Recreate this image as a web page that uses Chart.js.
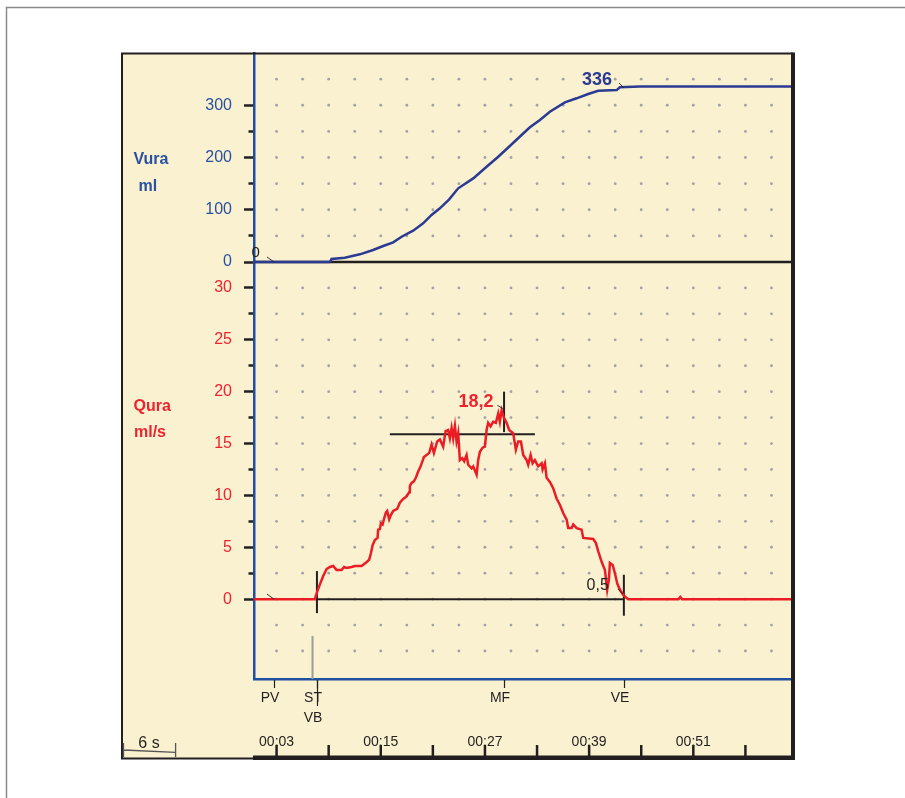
<!DOCTYPE html>
<html><head><meta charset="utf-8">
<script src="https://cdn.jsdelivr.net/npm/chart.js@4.4.1/dist/chart.umd.min.js"></script>
<style>html,body{margin:0;padding:0;background:#fff;overflow:hidden}canvas{display:block}</style>
</head><body>
<canvas id="c" width="905" height="798"></canvas>
<script>
// ---- data (time in seconds) ----
const flowTime = [0.4,7.41,7.67,7.98,8.36,8.76,9.14,9.52,9.91,10.48,10.78,11.06,11.64,12.02,12.79,13.28,13.66,13.86,14.06,14.32,14.63,14.70,14.90,15.01,15.21,15.36,15.59,15.74,15.97,16.16,16.43,16.89,17.20,17.58,17.97,18.27,18.35,18.55,18.81,19.04,19.31,19.59,19.97,20.28,20.58,20.85,21.12,21.50,21.81,22.19,22.47,22.76,22.96,23.16,23.34,23.54,23.73,23.92,24.11,24.38,24.61,24.88,25.07,25.46,25.65,26.04,26.22,26.42,26.73,26.99,27.19,27.37,27.65,27.95,28.26,28.53,28.72,28.92,29.18,29.49,29.79,30.25,30.56,30.83,31.14,31.41,31.80,31.98,32.26,32.49,32.75,33.13,33.53,33.64,33.91,34.10,34.48,34.86,35.25,35.63,36.01,36.41,36.59,36.98,37.17,37.56,38.13,38.32,39.47,39.78,40.05,40.44,40.82,41.08,41.28,41.39,41.71,41.97,42.24,42.55,42.93,43.32,43.50,49.3,49.5,49.7,62.25];
const flowRate = [0,0,0.7,1.4,2.2,2.9,3.1,3.2,2.8,2.8,3.1,3.0,3.1,3.2,3.2,3.5,3.8,4.4,5.2,5.7,5.9,6.7,6.75,7.3,7.2,7.7,8.35,8.5,7.7,8.1,8.5,8.7,9.3,9.65,9.9,10.3,10.9,11.2,11.35,11.7,12.3,12.8,13.7,13.9,14.1,14.9,14.1,15.2,15.4,14.7,16.2,16.3,15.5,16.5,15.5,16.7,15.2,16.0,13.4,13.6,13.3,13.9,12.95,12.6,12.8,12.0,13.4,14.2,14.6,14.7,16.3,17.0,16.65,17.1,17.0,17.9,17.1,18.2,17.5,17.0,16.3,16.0,14.4,15.2,15.2,13.9,13.4,12.95,13.9,13.1,13.4,12.8,13.1,12.5,13.1,11.7,11.3,10.7,9.7,9.1,8.3,7.65,6.85,6.85,7.2,6.85,6.7,5.9,5.8,5.4,4.6,3.6,2.8,0.9,1.9,3.5,3.3,2.5,1.5,0.9,0.4,0.1,0,0,0.2,0,0];
const volTime = [0.4,9.14,9.33,10.86,12.59,14.12,15.28,16.43,17.40,18.73,19.88,20.85,21.81,22.88,23.92,25.65,27.19,28.53,29.87,31.22,32.18,33.33,34.48,36.21,37.56,38.89,40.05,42.17,42.55,44.85,62.25];
const volume = [0,0,5.7,8.3,14.7,23,30.6,37.7,48.4,60,74,90,102.8,120,141,160,182.4,201.5,222,243,257.8,271.8,287.7,305.6,313.3,321.5,327.8,329,334.3,336,336];

const volTicks = [0,50,100,150,200,250,300];
const volLabelTicks = [0,100,200,300];
const flowTicks = [0,2.5,5,7.5,10,12.5,15,17.5,20,22.5,25,27.5,30];
const flowLabelTicks = [0,5,10,15,20,25,30];
const timeTicks = [3,15,27,39,51];
const timeTickLabels = ['00:03','00:15','00:27','00:39','00:51'];
const timeMinorTicks = [9,21,33,45,57];
const dotTimes = [3,6,9,12,15,18,21,24,27,30,33,36,39,42,45,48,51,54,57,60];
const dotVolumes = [50,100,150,200,250,300,350];
const dotFlows = [-5,-2.5,0,2.5,5,7.5,10,12.5,15,17.5,20,22.5,25,27.5,30];

const markerNames = ['PV','ST','VB','MF','VE'];
const markerTimes = [2.7,7.65,7.65,29.2,43.0];
const markerRow = [0,0,1,0,0];

const flowStart = 7.65, flowEnd = 43.0;
const Qmax = 18.2, QmaxTime = 29.2, QmaxLabel = '18,2';
const Vtotal = 336, VtotalTime = 42.55, VtotalLabel = '336';
const endFlow = 0.5, endFlowLabel = '0,5';
const refFlow = 15.9, refStart = 16.05, refEnd = 32.75;
const peakBar = [16.1, 20.0];
const vbBar = [-1.35, 2.7];
const veBar = [-1.6, 2.35];
const stTime = 7.14, stBar = [-7.7, -3.55];
const scaleBarSeconds = 6;

// ---- style ----
const FONT = '"Liberation Sans", Arial, Helvetica, sans-serif';
const DARK = '#231f20', BLUE = '#1f4f9f', VBLUE = '#2b3a92', LBLUE = '#2a50a0', RED = '#ec1c24', LRED = '#ec2430';
const CREAM = '#f9f1cf', DOT = '#a3a1a8';

function pts(xs, ys){ return xs.map((x,i)=>({x, y: ys[i]})); }
function seg(x1,y1,x2,y2){ return [{x:x1,y:y1},{x:x2,y:y2}]; }

const framePlugin = {
  id: 'frame',
  beforeDraw(chart){
    const c = chart.ctx;
    c.save();
    c.fillStyle = '#fff'; c.fillRect(0,0,905,798);
    c.strokeStyle = '#8a8a8a'; c.lineWidth = 1.5;
    c.beginPath(); c.moveTo(6.5,798); c.lineTo(6.5,7.5); c.lineTo(905,7.5); c.stroke();
    c.fillStyle = CREAM; c.fillRect(121,53,674,706);
    c.restore();
  },
  beforeDatasetsDraw(chart){
    const c = chart.ctx, x = chart.scales.x, yV = chart.scales.yV, yQ = chart.scales.yQ;
    c.save(); c.fillStyle = DOT;
    for (const t of dotTimes){
      const px = x.getPixelForValue(t);
      for (const v of dotVolumes){ c.beginPath(); c.arc(px, yV.getPixelForValue(v), 1.4, 0, Math.PI*2); c.fill(); }
      for (const q of dotFlows){ c.beginPath(); c.arc(px, yQ.getPixelForValue(q), 1.4, 0, Math.PI*2); c.fill(); }
    }
    c.restore();
  },
  afterDraw(chart){
    const c = chart.ctx, x = chart.scales.x, yV = chart.scales.yV, yQ = chart.scales.yQ, a = chart.chartArea;
    c.save();
    // panel border
    c.strokeStyle = DARK; c.lineWidth = 2;
    c.beginPath(); c.moveTo(122,759); c.lineTo(122,53.5); c.lineTo(793,53.5); c.stroke();
    c.lineWidth = 4; c.beginPath(); c.moveTo(793,52.5); c.lineTo(793,760); c.stroke();
    c.lineWidth = 2; c.beginPath(); c.moveTo(121,758.5); c.lineTo(254,758.5); c.stroke();
    c.fillStyle = DARK; c.fillRect(253,755.5,542,4.5);
    // time ticks
    c.lineWidth = 2.5; c.strokeStyle = DARK;
    for (const t of timeTicks.concat(timeMinorTicks)){
      const px = x.getPixelForValue(t);
      c.beginPath(); c.moveTo(px,745); c.lineTo(px,756); c.stroke();
    }
    // markers below plot
    c.lineWidth = 1.2; c.fillStyle = DARK; c.font = '14px ' + FONT; c.textAlign = 'center'; c.textBaseline = 'alphabetic';
    markerNames.forEach((n,i)=>{
      const px = Math.round(x.getPixelForValue(markerTimes[i])) + 0.5;
      const len = markerRow[i] ? 27 : 9;
      c.beginPath(); c.moveTo(px, a.bottom+1); c.lineTo(px, a.bottom + len); c.stroke();
      c.fillText(n, px - 4.5, markerRow[i] ? 722 : 702);
    });
    // 6 s scale bar
    const w = x.getPixelForValue(scaleBarSeconds) - x.getPixelForValue(0);
    c.strokeStyle = '#555'; c.lineWidth = 1.3;
    c.beginPath(); c.moveTo(123.5,743); c.lineTo(123.5,757); c.moveTo(123.5,750); c.lineTo(123.5+w,752.3);
    c.moveTo(123.5+w,743); c.lineTo(123.5+w,757); c.stroke();
    c.fillStyle = DARK; c.font = '16px ' + FONT; c.textAlign = 'center';
    c.fillText(scaleBarSeconds + ' s', 149, 748);
    // axis titles
    c.textAlign = 'left'; c.font = 'bold 16px ' + FONT;
    c.fillStyle = LBLUE; c.fillText('Vura', 133.5, 164); c.fillText('ml', 138.5, 190.5);
    c.fillStyle = LRED; c.fillText('Qura', 133.5, 410.5); c.fillText('ml/s', 134, 436.5);
    // annotations
    const leader = (x1,y1,x2,y2)=>{ c.strokeStyle = DARK; c.lineWidth = 0.9; c.beginPath(); c.moveTo(x1,y1); c.lineTo(x2,y2); c.stroke(); };
    let px = x.getPixelForValue(VtotalTime), py = yV.getPixelForValue(Vtotal);
    c.textAlign = 'right'; c.font = 'bold 18px ' + FONT; c.fillStyle = VBLUE;
    c.fillText(VtotalLabel, px - 8, py - 1.5);
    leader(px-1, py-3.5, px+4, py+1.5);
    px = x.getPixelForValue(QmaxTime); py = yQ.getPixelForValue(Qmax);
    c.fillStyle = LRED; c.fillText(QmaxLabel, px - 10.5, py - 3.5);
    leader(px-6.7, py-5, px-0.7, py-1.6);
    px = x.getPixelForValue(flowEnd); py = yQ.getPixelForValue(endFlow);
    c.font = '16px ' + FONT; c.fillStyle = DARK;
    c.fillText(endFlowLabel, px - 15, py - 4);
    leader(px-6, py-5, px-1, py);
    px = a.left; py = yV.getPixelForValue(0);
    c.textAlign = 'left'; c.font = '15px ' + FONT;
    c.fillText('0', px - 2.5, py - 5);
    leader(px+13, py-5, px+20, py);
    py = yQ.getPixelForValue(0);
    leader(px+13, py-5, px+20, py);
    c.restore();
  }
};

const minorDash = ctx => (ctx.tick && ctx.tick.major === false) ? [5,5] : [];

new Chart(document.getElementById('c'), {
  type: 'line',
  data: {
    datasets: [
      { data: pts(volTime, volume), yAxisID: 'yV', borderColor: VBLUE, borderWidth: 2.5, clip: false },
      { data: pts(flowTime, flowRate), yAxisID: 'yQ', borderColor: RED, borderWidth: 2.5, clip: false },
      { data: seg(flowTime[0], 0, flowTime[flowTime.length-1], 0), yAxisID: 'yV', borderColor: DARK, borderWidth: 2.5, clip: false },
      { data: seg(flowStart, 0, flowEnd, 0), yAxisID: 'yQ', borderColor: DARK, borderWidth: 2, clip: false },
      { data: seg(refStart, refFlow, refEnd, refFlow), yAxisID: 'yQ', borderColor: DARK, borderWidth: 2, clip: false },
      { data: seg(QmaxTime, peakBar[0], QmaxTime, peakBar[1]), yAxisID: 'yQ', borderColor: DARK, borderWidth: 2, clip: false },
      { data: seg(flowStart, vbBar[0], flowStart, vbBar[1]), yAxisID: 'yQ', borderColor: DARK, borderWidth: 2, clip: false },
      { data: seg(flowEnd, veBar[0], flowEnd, veBar[1]), yAxisID: 'yQ', borderColor: DARK, borderWidth: 2, clip: false },
      { data: seg(stTime, stBar[0], stTime, stBar[1]), yAxisID: 'yQ', borderColor: '#9d9d9d', borderWidth: 2, clip: false }
    ]
  },
  options: {
    responsive: false,
    devicePixelRatio: 1,
    animation: false,
    events: [],
    layout: { padding: { left: 121, right: 114, top: 53, bottom: 40 } },
    elements: { point: { radius: 0 }, line: { tension: 0, fill: false } },
    plugins: { legend: { display: false }, tooltip: { enabled: false } },
    scales: {
      x: {
        type: 'linear', position: 'bottom', min: 0.4, max: 62.25,
        afterFit(s){ s.height = 79; },
        afterBuildTicks(s){ s.ticks = timeTicks.map(v => ({ value: v })); },
        grid: { display: false, drawTicks: false },
        border: { display: true, color: BLUE, width: 2.5 },
        ticks: { autoSkip: false, maxRotation: 0, padding: 55, color: DARK, font: { family: FONT, size: 14 },
                 callback: (v) => { const i = timeTicks.indexOf(v); return i >= 0 ? timeTickLabels[i] : ''; } }
      },
      yQ: {
        type: 'linear', position: 'left', stack: 'uro', stackWeight: 417, min: -7.7, max: 32.5,
        afterFit(s){ s.width = 133; },
        afterBuildTicks(s){ s.ticks = flowTicks.map(v => ({ value: v, major: flowLabelTicks.includes(v) })); },
        grid: { drawOnChartArea: false, drawTicks: true, tickLength: 10, tickWidth: 2.5, tickColor: DARK,
                tickBorderDash: minorDash, tickBorderDashOffset: 5.5 },
        border: { display: true, color: BLUE, width: 2.5 },
        ticks: { autoSkip: false, padding: 12, color: LRED, font: { family: FONT, size: 16 },
                 callback: (v) => flowLabelTicks.includes(v) ? String(v) : '' }
      },
      yV: {
        type: 'linear', position: 'left', stack: 'uro', stackWeight: 209, min: 0, max: 400,
        afterFit(s){ s.width = 133; },
        afterBuildTicks(s){ s.ticks = volTicks.map(v => ({ value: v, major: volLabelTicks.includes(v) })); },
        grid: { drawOnChartArea: false, drawTicks: true, tickLength: 10, tickWidth: 2.5, tickColor: DARK,
                tickBorderDash: minorDash, tickBorderDashOffset: 5.5 },
        border: { display: true, color: BLUE, width: 2.5 },
        ticks: { autoSkip: false, padding: 12, color: LBLUE, font: { family: FONT, size: 16 },
                 callback: (v) => volLabelTicks.includes(v) ? String(v) : '' }
      }
    }
  },
  plugins: [framePlugin]
});
</script>
</body></html>
